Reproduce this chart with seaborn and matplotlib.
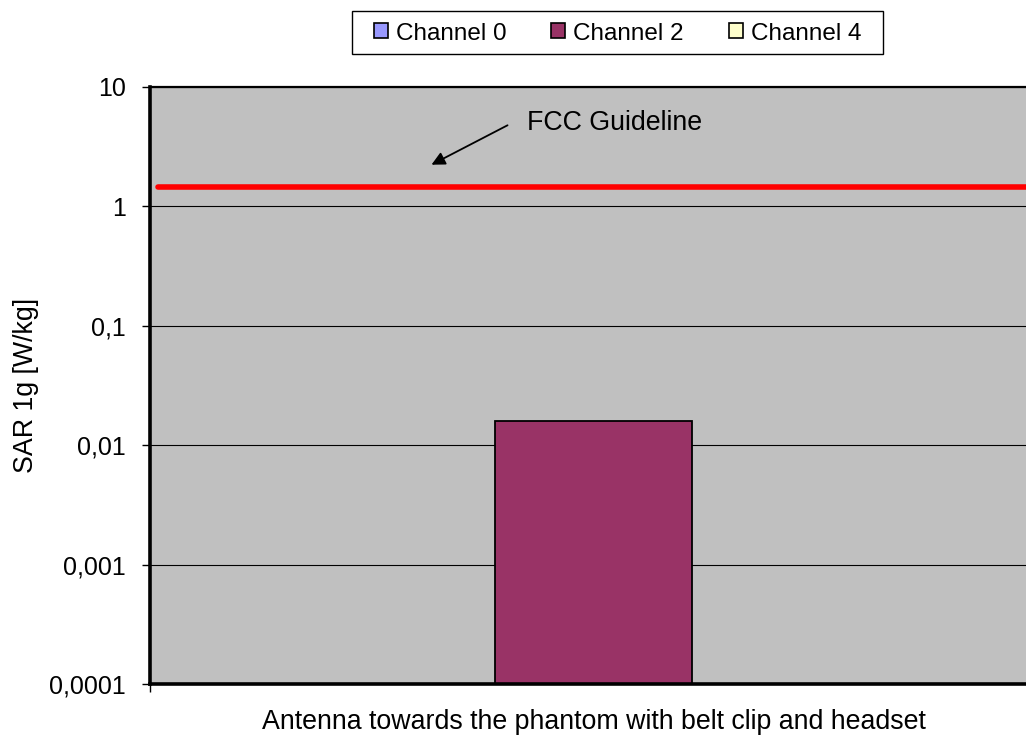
import numpy as np
import pandas as pd
import matplotlib
matplotlib.use("Agg")
import matplotlib.pyplot as plt
import seaborn as sns
from matplotlib.patches import Patch, Rectangle
from matplotlib.ticker import NullLocator

# ---- data ----
categories = ["Antenna towards the phantom with belt clip and headset"]
channels = ["Channel 0", "Channel 2", "Channel 4"]
sar_values = [np.nan, 0.016, np.nan]   # only Channel 2 measured / visible
channel_colors = ["#9999FF", "#993366", "#FFFFCC"]
fcc_guideline = 1.46
ytick_values = [10, 1, 0.1, 0.01, 0.001, 0.0001]
ytick_labels = ["10", "1", "0,1", "0,01", "0,001", "0,0001"]
y_label = "SAR 1g [W/kg]"
annotation_text = "FCC Guideline"

sns.set_style("ticks")
plt.rcParams["font.family"] = ["Liberation Sans", "DejaVu Sans"]
for k in ["text.color", "axes.labelcolor", "xtick.color", "ytick.color"]:
    plt.rcParams[k] = "black"
FS_LEG = 17.5
FS_TICK = 18
FS_LAB = 19.3

df = pd.DataFrame({
    "condition": categories * len(channels),
    "channel": channels,
    "sar": sar_values,
})

fig = plt.figure(figsize=(10.26, 7.37), dpi=100, facecolor="white")
W, H = 1026, 737
left, right, top, bottom = 150, 1037, 86.7, 684
ax = fig.add_axes([left / W, (H - bottom) / H, (right - left) / W, (bottom - top) / H])
ax.set_facecolor("#C0C0C0")

sns.barplot(data=df, x="condition", y="sar", hue="channel", hue_order=channels,
            palette=dict(zip(channels, channel_colors)), width=0.666, saturation=1,
            edgecolor="black", linewidth=1.3, legend=False, ax=ax)

ax.set_yscale("log")
ax.set_ylim(ytick_values[-1], ytick_values[0])
ax.set_xlim(-0.5, 0.5)
ax.set_yticks(ytick_values)
ax.set_yticklabels(ytick_labels)
ax.yaxis.set_minor_locator(NullLocator())
ax.set_xticks([-0.5, 0.5], minor=True)

ax.tick_params(axis="y", which="major", length=5.5, width=1, color="black",
               labelsize=FS_TICK, pad=12, direction="out", labelcolor="black")
ax.tick_params(axis="x", which="major", length=0, labelsize=FS_LAB, pad=18, labelcolor="black")
ax.tick_params(axis="x", which="minor", length=6, width=1, color="black", direction="out")

ax.set_xlabel("")
ax.set_ylabel(y_label, fontsize=FS_LAB, color="black")
ax.yaxis.set_label_coords((39 - left) / (right - left), 0.5)

ax.yaxis.grid(True, which="major", color="black", lw=0.8)
ax.set_axisbelow(True)

for s in ["left", "bottom"]:
    ax.spines[s].set_linewidth(2.6)
    ax.spines[s].set_color("black")
ax.spines["top"].set_visible(True)
ax.spines["top"].set_linewidth(1.6)
ax.spines["top"].set_color("black")
ax.spines["right"].set_visible(False)

# FCC guideline
ax.axhline(fcc_guideline, xmin=8 / (right - left), xmax=1, color="#FF0000", lw=4, zorder=3)

# annotation
def axfrac(px, py):
    return ((px - left) / (right - left), (bottom - py) / (bottom - top))

ax.annotate("", xy=axfrac(429, 166), xytext=axfrac(510, 124), xycoords="axes fraction",
            textcoords="axes fraction",
            arrowprops=dict(arrowstyle="-|>", color="black", lw=1.3, mutation_scale=20))
tx, ty = axfrac(527, 123)
ax.text(tx, ty, annotation_text, transform=ax.transAxes, fontsize=FS_LAB, ha="left",
        va="center", color="black")

# legend
fig.patches.append(Rectangle((352 / W, 1 - 54 / H), 531 / W, 43 / H, transform=fig.transFigure,
                             fill=True, facecolor="white", edgecolor="black", lw=1.0))
handles = [Patch(facecolor=c, edgecolor="black", linewidth=1.2) for c in channel_colors]
leg = fig.legend(handles, channels, loc="center", bbox_to_anchor=(617.5 / W, 1 - 33.5 / H),
                 ncol=3, fontsize=FS_LEG, frameon=False,
                 handlelength=0.58, handleheight=0.58, handletextpad=0.33,
                 columnspacing=1.85, borderpad=0.0)
for t in leg.get_texts():
    t.set_color("black")

fig.savefig("out.png", dpi=100, facecolor="white")
